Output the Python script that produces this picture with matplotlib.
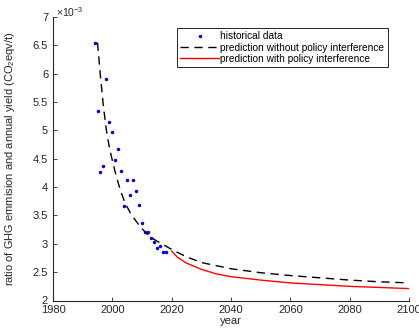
import matplotlib
matplotlib.use("Agg")
import matplotlib.pyplot as plt

plt.rcParams['font.family'] = ['Liberation Sans', 'DejaVu Sans']
plt.rcParams['mathtext.fontset'] = 'custom'
plt.rcParams['mathtext.rm'] = 'Liberation Sans'
plt.rcParams['mathtext.it'] = 'Liberation Sans:italic'

# historical data (x 1e-3 CO2eqv/t)
hist_years = [1994, 1995, 1996, 1997, 1998, 1999, 2000, 2001, 2002, 2003,
              2004, 2005, 2006, 2007, 2008, 2009, 2010, 2011, 2012, 2013,
              2014, 2015, 2016, 2017, 2018]
hist_values = [6.55, 5.35, 4.26, 4.38, 5.90, 5.15, 4.98, 4.47, 4.68, 4.28,
               3.67, 4.12, 3.86, 4.13, 3.93, 3.69, 3.36, 3.21, 3.20, 3.11,
               3.03, 2.93, 2.97, 2.85, 2.86]

# prediction without policy interference
pred_years = [1995, 1996, 1997, 1998, 1999, 2000, 2001, 2002, 2003, 2004,
              2005, 2006, 2007, 2008, 2009, 2010, 2011, 2012, 2013, 2014,
              2016, 2018, 2020, 2025, 2030, 2040, 2050, 2060, 2070, 2080,
              2090, 2100]
pred_values = [6.55, 5.95, 5.42, 5.00, 4.70, 4.47, 4.26, 4.07, 3.90, 3.76,
               3.65, 3.55, 3.47, 3.40, 3.33, 3.27, 3.21, 3.16, 3.12, 3.08,
               3.02, 2.96, 2.90, 2.77, 2.67, 2.56, 2.49, 2.44, 2.40, 2.36,
               2.33, 2.31]

# prediction with policy interference
policy_years = [2020, 2022, 2025, 2030, 2035, 2040, 2050, 2060, 2070, 2080,
                2090, 2100]
policy_values = [2.87, 2.76, 2.66, 2.55, 2.47, 2.42, 2.36, 2.31, 2.28, 2.25,
                 2.23, 2.21]

xticks = [1980, 2000, 2020, 2040, 2060, 2080, 2100]
yticks = [2, 2.5, 3, 3.5, 4, 4.5, 5, 5.5, 6, 6.5, 7]

fig = plt.figure(figsize=(4.19, 3.34), dpi=100)
ax = fig.add_axes([53/419, 1 - 300.5/334, (409 - 53)/419, (300.5 - 17)/334])

ax.plot(hist_years, hist_values, linestyle='none', marker='.', markersize=3,
        color=(0, 0, 1), label='historical data')
ax.plot(pred_years, pred_values, color='black', linewidth=1.0,
        dashes=(6, 4), label='prediction without policy interference')
ax.plot(policy_years, policy_values, color=(1, 0, 0), linewidth=1.0,
        label='prediction with policy interference')

ax.set_xlim(1980, 2100)
ax.set_ylim(2, 7)
ax.set_xticks(xticks)
ax.set_yticks(yticks)
ax.set_yticklabels(['%g' % v for v in yticks])
ax.tick_params(direction='in', length=3, labelsize=8, colors='#262626',
               width=0.6)
ax.tick_params(axis='x', pad=3)
for s in ['top', 'right']:
    ax.spines[s].set_visible(False)
for s in ['left', 'bottom']:
    ax.spines[s].set_linewidth(0.8)
    ax.spines[s].set_color('#262626')

ax.set_xlabel('year', fontsize=8, color='#262626', labelpad=1)
ax.set_ylabel('ratio of GHG emmision and annual yield (CO$_2$eqv/t)',
              fontsize=8, color='#262626')
ax.yaxis.set_label_coords(-0.101, 0.5)

fig.text(56/419, 1 - 12/334, r'$\times$10$^{-3}$', fontsize=7.5,
         color='#262626', va='center', ha='left')

leg = ax.legend(loc='upper right', bbox_to_anchor=(0.941, 0.962),
                fontsize=7.3, frameon=True, fancybox=False, framealpha=1,
                edgecolor='#262626', borderpad=0.35, labelspacing=0.12,
                handlelength=3.8, handletextpad=0.15, borderaxespad=0)
leg.get_frame().set_linewidth(0.7)

fig.savefig('out.png', dpi=100)
